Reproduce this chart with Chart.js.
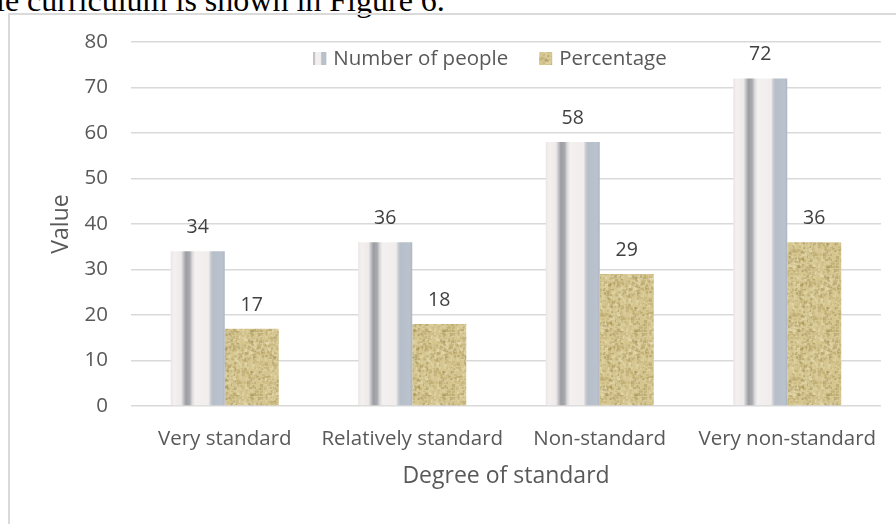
<!DOCTYPE html>
<html><head><meta charset="utf-8">
<script src="https://cdn.jsdelivr.net/npm/chart.js@4.4.1/dist/chart.umd.min.js"></script>
<style>
html,body{margin:0;padding:0;background:#fff;width:896px;height:524px;overflow:hidden;position:relative;}
#doc{position:absolute;left:-4px;top:-16px;font-family:"Liberation Serif","Times New Roman",serif;font-size:32px;line-height:32px;color:#000;white-space:nowrap;}
#frame{position:absolute;left:8px;top:13px;width:900px;height:520px;border-top:2px solid #dadada;border-left:2px solid #dadada;}
#wrap{position:absolute;left:0;top:0;width:896px;height:524px;}
</style></head><body>
<div id="doc">le curriculum is shown in Figure 6.</div>
<div id="frame"></div>
<div id="wrap"><canvas id="c" width="896" height="524"></canvas></div>
<script>
const categories = ['Very standard', 'Relatively standard', 'Non-standard', 'Very non-standard'];
const seriesNames = ['Number of people', 'Percentage'];
const numberOfPeople = [34, 36, 58, 72];
const percentage = [17, 18, 29, 36];
const yMin = 0, yMax = 80, yStep = 10;
const xTitle = 'Degree of standard';
const yTitle = 'Value';

const FONT = '"Open Sans", "Noto Sans", sans-serif';
const TXT = '#595959';
const CAT_PCT = 0.576;

function sandCanvas() {
  const s = 64, cv = document.createElement('canvas');
  cv.width = cv.height = s;
  const g = cv.getContext('2d');
  g.fillStyle = '#d5c58e'; g.fillRect(0, 0, s, s);
  let seed = 987654;
  const rnd = () => { seed = (seed * 1103515245 + 12345) & 0x7fffffff; return seed / 0x7fffffff; };
  for (let i = 0; i < 900; i++) {
    const x = Math.floor(rnd() * s), y = Math.floor(rnd() * s), r = rnd();
    g.fillStyle = r < 0.45 ? 'rgba(175,155,95,0.28)' : r < 0.9 ? 'rgba(232,222,180,0.35)' : 'rgba(140,125,70,0.3)';
    const w = 2 + Math.floor(rnd() * 2), h = 2 + Math.floor(rnd() * 2);
    g.fillRect(x, y, w, h);
  }
  return cv;
}
const sandCv = sandCanvas();
let sandPattern = null;

function stripeGradient(ctx, left, w) {
  const g = ctx.createLinearGradient(left, 0, left + w, 0);
  g.addColorStop(0.00, '#ebe4e4');
  g.addColorStop(0.06, '#f5f0f0');
  g.addColorStop(0.19, '#eeeaea');
  g.addColorStop(0.23, '#c8c8cc');
  g.addColorStop(0.28, '#9c9da2');
  g.addColorStop(0.35, '#a9aaaf');
  g.addColorStop(0.40, '#dcdadc');
  g.addColorStop(0.45, '#f4f0f0');
  g.addColorStop(0.70, '#f1eded');
  g.addColorStop(0.74, '#c8ccd2');
  g.addColorStop(0.78, '#b6bec9');
  g.addColorStop(0.95, '#bac2cd');
  g.addColorStop(1.00, '#aeb6c2');
  return g;
}

function barBg(c) {
  const chart = c.chart;
  const xs = chart.scales.x;
  if (c.datasetIndex === 1) {
    if (!sandPattern) sandPattern = chart.ctx.createPattern(sandCv, 'repeat');
    return sandPattern;
  }
  if (c.type !== 'data' || !xs) return '#eeeaea';
  const cat = xs.width / categories.length;
  const group = cat * CAT_PCT;
  const bw = group / 2;
  const center = xs.getPixelForValue(c.dataIndex);
  const left = center - group / 2 + c.datasetIndex * bw;
  if (!isFinite(left) || !isFinite(bw) || bw <= 0) return '#eeeaea';
  return stripeGradient(chart.ctx, left, bw);
}

const valueLabels = {
  id: 'valueLabels',
  afterDatasetsDraw(chart) {
    const ctx = chart.ctx;
    ctx.save();
    ctx.font = '19.5px ' + FONT;
    ctx.fillStyle = '#404040';
    ctx.textAlign = 'center';
    ctx.textBaseline = 'alphabetic';
    chart.data.datasets.forEach((ds, di) => {
      chart.getDatasetMeta(di).data.forEach((el, i) => {
        ctx.fillText(String(ds.data[i]), el.x, el.y - 18);
      });
    });
    ctx.restore();
  }
};

const topLegend = {
  id: 'topLegend',
  afterDraw(chart) {
    const ctx = chart.ctx, ca = chart.chartArea;
    ctx.save();
    ctx.font = '20.5px ' + FONT;
    ctx.textBaseline = 'middle';
    ctx.textAlign = 'left';
    const box = 13, gap = 7, itemGap = 31;
    const widths = chart.data.datasets.map(d => ctx.measureText(d.label).width);
    const total = widths.reduce((a, w) => a + box + gap + w, 0) + itemGap * (widths.length - 1);
    let x = (ca.left + ca.right) / 2 - 16 - total / 2;
    const yc = ca.top + 16.5;
    chart.data.datasets.forEach((d, i) => {
      ctx.fillStyle = i === 0 ? stripeGradient(ctx, x - 6, box + 6) : (sandPattern || '#d5c68f');
      ctx.fillRect(x, yc - box / 2, box, box);
      ctx.fillStyle = TXT;
      ctx.fillText(d.label, x + box + gap, yc + 0.5);
      x += box + gap + widths[i] + itemGap;
    });
    ctx.restore();
  }
};

new Chart(document.getElementById('c'), {
  type: 'bar',
  data: {
    labels: categories,
    datasets: [
      { label: seriesNames[0], data: numberOfPeople, backgroundColor: barBg, borderWidth: 0 },
      { label: seriesNames[1], data: percentage, backgroundColor: barBg, borderWidth: 0 }
    ]
  },
  options: {
    responsive: false,
    animation: false,
    events: [],
    layout: { padding: { left: 48, right: 15, top: 42, bottom: 0 } },
    datasets: { bar: { categoryPercentage: CAT_PCT, barPercentage: 1 } },
    plugins: { legend: { display: false }, tooltip: { enabled: false } },
    scales: {
      x: {
        grid: { display: false },
        border: { display: false },
        ticks: { color: TXT, font: { family: FONT, size: 20.5 }, padding: 13, maxRotation: 0, autoSkip: false },
        title: { display: true, text: xTitle, color: TXT, font: { family: FONT, size: 23 }, padding: { top: 0, bottom: 34 } },
        afterFit(s) { s.height = 118; }
      },
      y: {
        min: yMin, max: yMax,
        grid: { color: '#d9d9d9', lineWidth: 1.5, drawTicks: false },
        border: { display: false },
        ticks: { stepSize: yStep, color: TXT, font: { family: FONT, size: 20.5 }, padding: 23 },
        title: { display: true, text: yTitle, color: TXT, font: { family: FONT, size: 23 }, padding: { top: 0, bottom: 0 } },
        afterFit(s) { s.width = 83; }
      }
    }
  },
  plugins: [valueLabels, topLegend]
});
</script>
</body></html>
